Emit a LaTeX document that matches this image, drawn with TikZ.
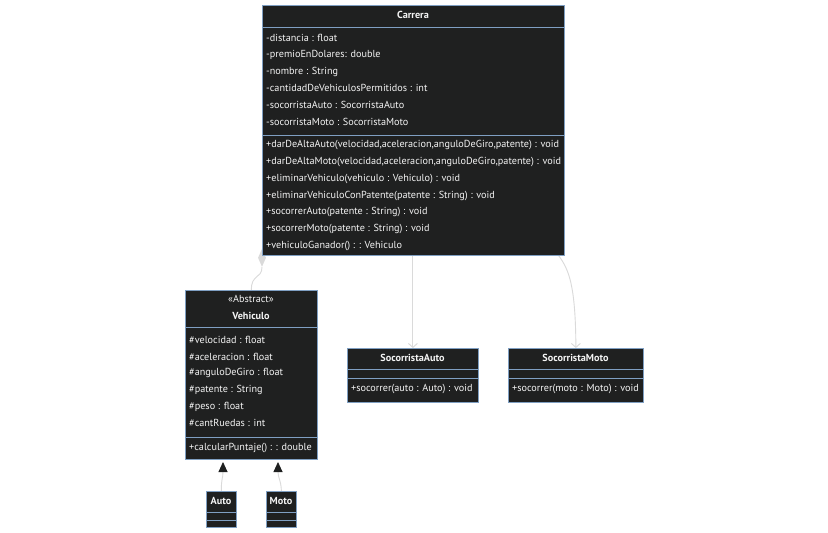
\documentclass[tikz,border=0pt]{standalone}
\usepackage{fontspec}
\setmainfont{PT Sans}
\usetikzlibrary{arrows.meta,shapes.geometric}
\definecolor{boxbg}{HTML}{1F2020}
\definecolor{boxline}{HTML}{7F9FC2}
\definecolor{txt}{HTML}{F4F4F4}
\definecolor{edge}{HTML}{DADADA}
\pgfdeclarelayer{back}
\pgfdeclarelayer{bg}
\pgfsetlayers{back,bg,main}
\tikzset{
 classbox/.style={draw=boxline, fill=boxbg, line width=0.8pt, inner sep=0pt, anchor=north west},
 sepline/.style={draw=boxline, line width=0.8pt},
 member/.style={text=txt, font=\fontsize{10.2}{12}\selectfont, anchor=west, inner sep=0pt},
 ctitle/.style={text=txt, font=\fontsize{10.2}{12}\selectfont\bfseries, inner sep=0pt},
 link/.style={draw=edge, line width=0.9pt},
 dep/.style={link, -{Straight Barb[length=4pt,width=9pt]}},
 inh/.style={link, -{Triangle[length=10pt,width=9pt,fill=boxbg,color=boxbg]}},
}
\begin{document}
\begin{tikzpicture}[x=1pt,y=-1pt]
\begin{pgfonlayer}{back}
\useasboundingbox[fill=white] (0,0) rectangle (828,533);
\end{pgfonlayer}
% ---- Carrera
\node[classbox, minimum width=302pt, minimum height=250pt] (carrera) at (262,5) {};
\node[ctitle] (carreraT) at (413,15) {Carrera};
\draw[sepline] (carrera.west |- 0,27) -- (carrera.east |- 0,27);
\draw[sepline] (carrera.west |- 0,135) -- (carrera.east |- 0,135);
\node[member] (ca1) at (266,38) {-distancia : float};
\node[member] (ca2) at (266,55) {-premioEnDolares: double};
\node[member] (ca3) at (266,72) {-nombre : String};
\node[member] (ca4) at (266,88) {-cantidadDeVehiculosPermitidos : int};
\node[member] (ca5) at (266,105) {-socorristaAuto : SocorristaAuto};
\node[member] (ca6) at (266,122) {-socorristaMoto : SocorristaMoto};
\node[member] (cm1) at (266,145) {+darDeAltaAuto(velocidad,aceleracion,anguloDeGiro,patente) : void};
\node[member] (cm2) at (266,162) {+darDeAltaMoto(velocidad,aceleracion,anguloDeGiro,patente) : void};
\node[member] (cm3) at (266,179) {+eliminarVehiculo(vehiculo : Vehiculo) : void};
\node[member] (cm4) at (266,196) {+eliminarVehiculoConPatente(patente : String) : void};
\node[member] (cm5) at (266,212) {+socorrerAuto(patente : String) : void};
\node[member] (cm6) at (266,229) {+socorrerMoto(patente : String) : void};
\node[member] (cm7) at (266,246) {+vehiculoGanador() : : Vehiculo};
% ---- Vehiculo
\node[classbox, minimum width=132pt, minimum height=169pt] (veh) at (185,290) {};
\node[ctitle, font=\fontsize{10.2}{12}\selectfont] (vehS) at (251,299) {«Abstract»};
\node[ctitle] (vehT) at (251,316) {Vehiculo};
\draw[sepline] (veh.west |- 0,327) -- (veh.east |- 0,327);
\draw[sepline] (veh.west |- 0,437) -- (veh.east |- 0,437);
\node[member] (va1) at (189,340) {\#velocidad : float};
\node[member] (va2) at (189,357) {\#aceleracion : float};
\node[member] (va3) at (189,373) {\#anguloDeGiro : float};
\node[member] (va4) at (189,390) {\#patente : String};
\node[member] (va5) at (189,407) {\#peso : float};
\node[member] (va6) at (189,423) {\#cantRuedas : int};
\node[member] (vm1) at (189,448) {+calcularPuntaje() : : double};
% ---- SocorristaAuto
\node[classbox, minimum width=131pt, minimum height=54pt] (sa) at (347,348) {};
\node[ctitle] (saT) at (412.5,358) {SocorristaAuto};
\draw[sepline] (sa.west |- 0,369) -- (sa.east |- 0,369);
\draw[sepline] (sa.west |- 0,378) -- (sa.east |- 0,378);
\node[member] (sam) at (351,389) {+socorrer(auto : Auto) : void};
% ---- SocorristaMoto
\node[classbox, minimum width=135pt, minimum height=54pt] (sm) at (508,348) {};
\node[ctitle] (smT) at (575.5,358) {SocorristaMoto};
\draw[sepline] (sm.west |- 0,369) -- (sm.east |- 0,369);
\draw[sepline] (sm.west |- 0,378) -- (sm.east |- 0,378);
\node[member] (smm) at (512,389) {+socorrer(moto : Moto) : void};
% ---- Auto / Moto
\node[classbox, minimum width=30pt, minimum height=36pt] (auto) at (206,491) {};
\node[ctitle] (autoT) at (221,501) {Auto};
\draw[sepline] (auto.west |- 0,512) -- (auto.east |- 0,512);
\draw[sepline] (auto.west |- 0,520) -- (auto.east |- 0,520);
\node[classbox, minimum width=30pt, minimum height=36pt] (moto) at (266,491) {};
\node[ctitle] (motoT) at (281,501) {Moto};
\draw[sepline] (moto.west |- 0,512) -- (moto.east |- 0,512);
\draw[sepline] (moto.west |- 0,520) -- (moto.east |- 0,520);
% ---- connectors
\coordinate (vehAutoEnd) at (223,462);
\coordinate (vehMotoEnd) at (278,462);
\begin{pgfonlayer}{bg}
\node[diamond, fill=edge, inner sep=0pt, minimum width=8pt, minimum height=18pt] (comp) at ([yshift=-2pt]carrera.south west) {};
\draw[link] (comp.south) .. controls ([yshift=-12pt]comp.south) and (251,274) .. (veh.north);
\draw[dep] (carrera.south -| sa.north) -- (sa.north);
\draw[dep] ([xshift=-6pt]carrera.south east) .. controls (569,270) and (575.5,285) .. (sm.north);
\draw[inh] (auto.north) .. controls (221,480) and (223,478) .. (vehAutoEnd);
\draw[inh] (moto.north) .. controls (281,480) and (278,478) .. (vehMotoEnd);
\end{pgfonlayer}
\end{tikzpicture}
\end{document}
